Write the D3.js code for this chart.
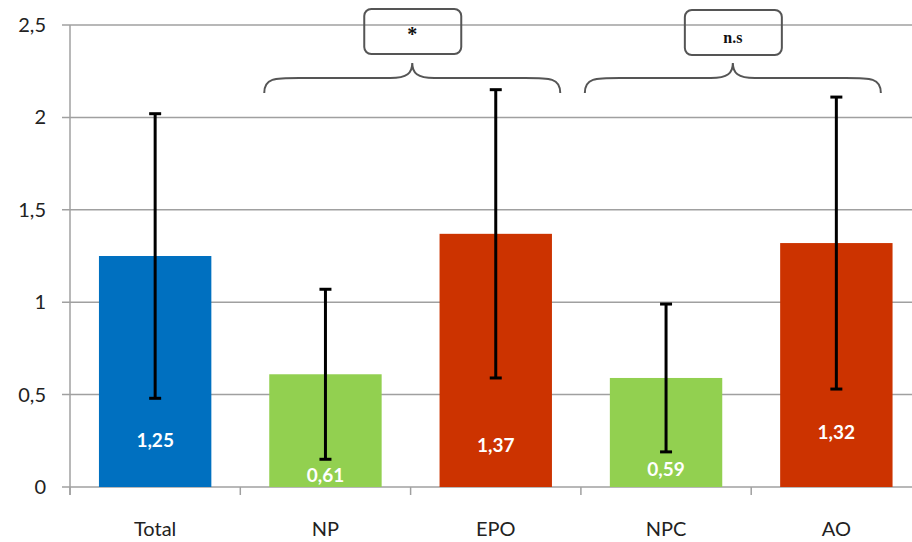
<!DOCTYPE html>
<html>
<head>
<meta charset="utf-8">
<script src="https://cdn.jsdelivr.net/npm/d3@7"></script>
<style>
  body { margin: 0; background: #fff; }
  svg { display: block; }
</style>
</head>
<body>
<svg id="chart"></svg>
<script>
// Data
const categories = ["Total", "NP", "EPO", "NPC", "AO"];
const means = [1.25, 0.61, 1.37, 0.59, 1.32];
const lower = [0.48, 0.15, 0.59, 0.19, 0.53];
const upper = [2.02, 1.07, 2.15, 0.99, 2.11];
const valueLabels = ["1,25", "0,61", "1,37", "0,59", "1,32"];
const barColors = ["#0070c0", "#92d050", "#cc3300", "#92d050", "#cc3300"];
const yTicks = [0, 0.5, 1, 1.5, 2, 2.5];
const comparisons = [
    { from: "NP", to: "EPO", label: "*" },
    { from: "NPC", to: "AO", label: "n.s" }
];

// Layout
const width = 912, height = 542;
const labelDy = [-47, -12, -42, -18, -55]; // label centre offsets from baseline
const braceShift = [-5, -25];              // brace start relative to first bar

const svg = d3.select("#chart").attr("width", width).attr("height", height);

const x = d3.scaleBand().domain(categories).range([70, 921.5]).paddingInner(0.34).paddingOuter(0.17);
const y = d3.scaleLinear().domain([0, 2.5]).range([487, 25]);

const fmt = v => String(v).replace(".", ",");
const font = "Lato, 'Open Sans', sans-serif";

// gridlines
svg.append("g").selectAll("line").data(yTicks).join("line")
    .attr("x1", 62).attr("x2", width)
    .attr("y1", d => y(d)).attr("y2", d => y(d))
    .attr("stroke", "#a0a0a0").attr("stroke-width", 1.5);

// y axis line
svg.append("line").attr("x1", 70).attr("x2", 70).attr("y1", y(2.5)).attr("y2", 495)
    .attr("stroke", "#a0a0a0").attr("stroke-width", 1.5);

// x ticks
const step = x.step();
svg.append("g").selectAll("line").data(categories).join("line")
    .attr("x1", d => x(d) - x.paddingInner() * step / 2)
    .attr("x2", d => x(d) - x.paddingInner() * step / 2)
    .attr("y1", 487).attr("y2", 495)
    .attr("stroke", "#a0a0a0").attr("stroke-width", 1.5);

// y tick labels
svg.append("g").selectAll("text").data(yTicks).join("text")
    .attr("x", 46).attr("y", d => y(d)).attr("dy", "0.35em")
    .attr("text-anchor", "end")
    .attr("font-family", font).attr("font-size", 20)
    .attr("fill", "#222").text(fmt);

// x labels
svg.append("g").selectAll("text").data(categories).join("text")
    .attr("x", d => x(d) + x.bandwidth() / 2).attr("y", 529).attr("dy", "0.35em")
    .attr("text-anchor", "middle")
    .attr("font-family", font).attr("font-size", 20)
    .attr("fill", "#222").text(d => d);

// bars
svg.append("g").selectAll("rect").data(categories).join("rect")
    .attr("x", d => x(d)).attr("width", x.bandwidth())
    .attr("y", (d, i) => y(means[i])).attr("height", (d, i) => y(0) - y(means[i]))
    .attr("fill", (d, i) => barColors[i]);

// error bars
const eb = svg.append("g").attr("stroke", "#000").attr("stroke-width", 3);
categories.forEach((c, i) => {
    const cx = x(c) + x.bandwidth() / 2;
    eb.append("line").attr("x1", cx).attr("x2", cx).attr("y1", y(lower[i])).attr("y2", y(upper[i]));
    [lower[i], upper[i]].forEach(v => {
        eb.append("line").attr("x1", cx - 6).attr("x2", cx + 6).attr("y1", y(v)).attr("y2", y(v));
    });
});

// value labels
svg.append("g").selectAll("text").data(categories).join("text")
    .attr("x", d => x(d) + x.bandwidth() / 2)
    .attr("y", (d, i) => y(0) + labelDy[i]).attr("dy", "0.35em")
    .attr("text-anchor", "middle")
    .attr("font-family", font).attr("font-weight", "bold").attr("font-size", 19)
    .attr("fill", "#fff").text((d, i) => valueLabels[i]);

// braces and significance boxes
comparisons.forEach((cmp, k) => {
    const x0 = x(cmp.from) + braceShift[k];
    const x1 = x0 + 296;
    const mid = (x0 + x1) / 2;
    const yb = 93, yh = 78, yt = 63;
    const path = `M${x0},${yb} C${x0},${yh} ${x0 + 10},${yh} ${x0 + 35},${yh}
        L${mid - 22},${yh} C${mid - 5},${yh} ${mid},${yh - 5} ${mid},${yt}
        C${mid},${yh - 5} ${mid + 5},${yh} ${mid + 22},${yh}
        L${x1 - 35},${yh} C${x1 - 10},${yh} ${x1},${yh} ${x1},${yb}`;
    svg.append("path").attr("d", path).attr("fill", "none")
        .attr("stroke", "#555").attr("stroke-width", 2);
    svg.append("rect").attr("x", mid - 48).attr("y", 9 + k).attr("width", 97).attr("height", 45)
        .attr("rx", 7).attr("fill", "none").attr("stroke", "#555").attr("stroke-width", 2);
    svg.append("text").attr("x", mid).attr("y", 34 + 3 * k).attr("dy", "0.35em")
        .attr("text-anchor", "middle")
        .attr("font-family", "'Liberation Serif', serif").attr("font-weight", "bold")
        .attr("font-size", cmp.label === "*" ? 20 : 16)
        .attr("fill", "#111").text(cmp.label);
});
</script>
</body>
</html>
